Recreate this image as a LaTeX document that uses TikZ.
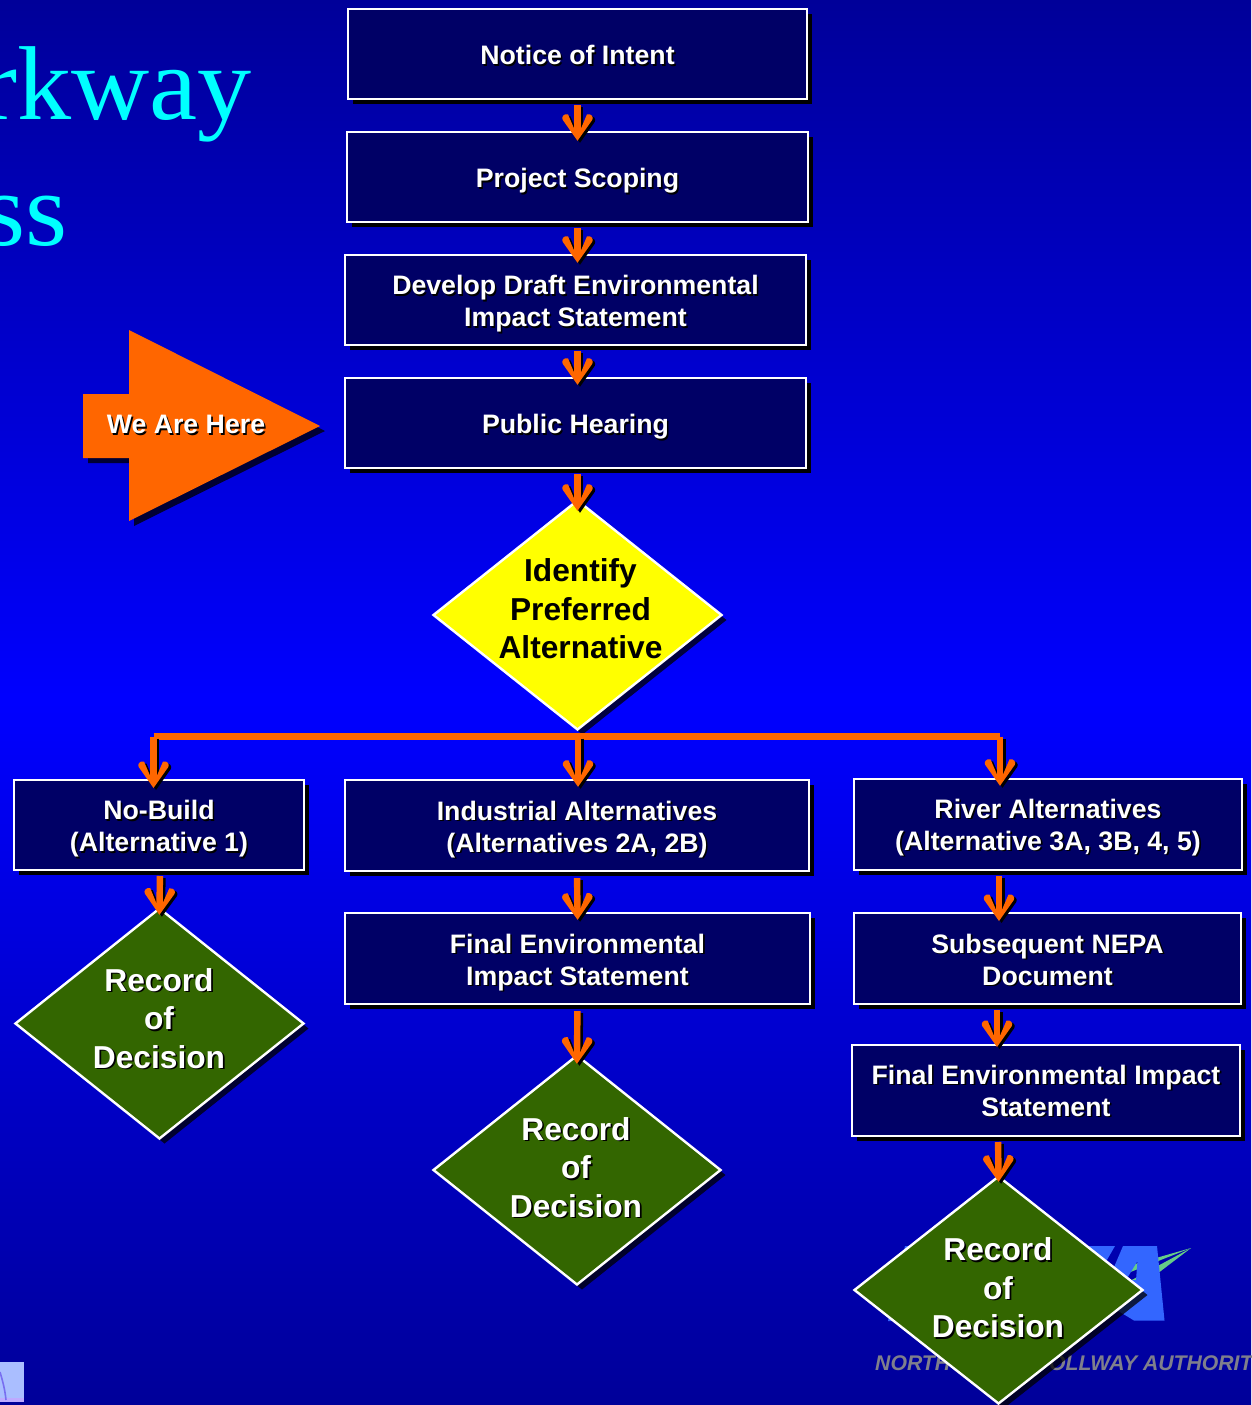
\documentclass[tikz,border=0pt]{standalone}
\usepackage{fontspec}
\setmainfont{Liberation Sans}
\newfontfamily\titlefont{Liberation Serif}
\usetikzlibrary{arrows.meta,shapes.geometric,shadows}
\definecolor{bgdark}{RGB}{0,0,153}
\definecolor{bgmid}{RGB}{0,0,255}
\definecolor{boxfill}{RGB}{0,0,102}
\definecolor{flow}{RGB}{255,102,0}
\definecolor{rod}{RGB}{51,102,0}
\definecolor{deep}{RGB}{0,0,51}
\definecolor{logoblue}{RGB}{51,102,255}
\definecolor{swoosh}{RGB}{102,204,136}
\definecolor{tagline}{RGB}{127,127,140}
\definecolor{titlecyan}{RGB}{0,255,255}
\definecolor{pureyellow}{RGB}{255,255,0}
\newcommand{\st}[1]{\leavevmode\rule{0pt}{.716em}\smash{\rlap{\kern1.6pt\raisebox{-1.6pt}{\textcolor{black}{#1}}}#1}}
\newcommand{\bt}[1]{\leavevmode\rule{0pt}{\dimexpr.716em+2pt\relax}\st{#1}}
\newcommand{\declarehead}[2]{%
\pgfdeclarearrow{name=#1,
  setup code={\pgfarrowssettipend{0pt}\pgfarrowssetbackend{-27.5pt}\pgfarrowssetlineend{-12pt}\pgfarrowssetvisualtipend{0pt}\pgfarrowssetvisualbackend{-27.5pt}\pgfarrowshullpoint{0pt}{0pt}\pgfarrowshullpoint{-27.5pt}{15pt}\pgfarrowshullpoint{-27.5pt}{-15pt}},
  drawing code={%
    \pgfsetfillcolor{#2}%
    \pgfpathmoveto{\pgfpoint{0pt}{0pt}}%
    \pgfpathlineto{\pgfpoint{-21pt}{14.8pt}}%
    \pgfpathcurveto{\pgfpoint{-23.5pt}{16.3pt}}{\pgfpoint{-27.5pt}{14pt}}{\pgfpoint{-26.5pt}{9.5pt}}%
    \pgfpathlineto{\pgfpoint{-12pt}{3.3pt}}%
    \pgfpathlineto{\pgfpoint{-12pt}{-3.3pt}}%
    \pgfpathlineto{\pgfpoint{-26.5pt}{-9.5pt}}%
    \pgfpathcurveto{\pgfpoint{-27.5pt}{-14pt}}{\pgfpoint{-23.5pt}{-16.3pt}}{\pgfpoint{-21pt}{-14.8pt}}%
    \pgfpathclose
    \pgfusepathqfill},
  defaults={}}}
\declarehead{HeadOrange}{flow}
\declarehead{HeadBlack}{black}
\tikzset{
  x=1pt,y=-1pt,
  procbox/.style={draw=white,line width=2.4pt,fill=boxfill,text=white,align=center,
    font=\fontsize{26.7}{32}\selectfont\bfseries,inner sep=0pt,
    drop shadow={shadow xshift=5pt,shadow yshift=-5pt,fill=black,opacity=1}},
  dia/.style={diamond,draw=white,line width=2.4pt,inner sep=0pt,shape aspect=1.26,
    drop shadow={shadow xshift=5pt,shadow yshift=-5pt,fill=black,opacity=.75}},
  dialabel/.style={text=white,align=center,font=\fontsize{31.7}{38.5}\selectfont\bfseries,inner sep=0pt},
  flowline/.style={draw=flow,line width=6.4pt,-{HeadOrange},
    preaction={draw=black,line width=6.4pt,transform canvas={shift={(2.5pt,-2pt)}},-{HeadBlack}}},
  busline/.style={draw=flow,line width=6.4pt,line cap=square},
}
\begin{document}
\begin{tikzpicture}
\useasboundingbox (0,0) rectangle (1251,1405);
\shade[top color=bgdark,bottom color=bgdark,middle color=bgmid] (0,0) rectangle (1251,1405);
% title fragments
\node[anchor=base east,inner sep=0pt,text=titlecyan,font=\titlefont\fontsize{105}{105}\selectfont] (title1) at (251.5,119) {\scalebox{1.03}[1]{rkway}};
\node[anchor=base east,inner sep=0pt,text=titlecyan,font=\titlefont\fontsize{105}{105}\selectfont] (title2) at (68,245) {\scalebox{1.03}[1]{ss}};
% thumbnail bottom-left
\fill[fill={rgb,255:red,170;green,190;blue,255}] (0,1362) rectangle (24,1402);
\fill[fill={rgb,255:red,190;green,170;blue,255}] (0,1398) rectangle (24,1402);
\draw[draw={rgb,255:red,120;green,110;blue,240},line width=1.6pt] (0,1372) .. controls (3,1382) and (5,1390) .. (6,1400);
% logo
\fill[swoosh] (1191,1248) -- (1128,1266) -- (1128,1273) -- cycle;
\fill[swoosh] (1191,1248) -- (1128,1282) -- (1128,1296) -- cycle;
\fill[logoblue,even odd rule] (1123,1246) -- (1157,1246) -- (1164.5,1320.5) -- (1134,1320.5) -- (1100,1300) -- cycle
  (1137.5,1261) -- (1136,1280) -- (1126,1280) -- cycle;
\fill[logoblue] (1085,1246) -- (1115,1246) -- (1104,1265) -- (1085,1265) -- cycle;
\fill[logoblue] (905,1246) -- (930,1246) -- (910,1321) -- (888,1321) -- cycle;
\node[anchor=base west,inner sep=0pt,text=tagline,font=\fontsize{21.2}{22}\selectfont\bfseries\itshape] (logotext) at (875,1370) {NORTH TEXAS\hspace*{4pt} TOLLWAY AUTHORITY};
% We are here arrow
\fill[deep] (88,399) -- (134,399) -- (134,335) -- (325,431) -- (134,526) -- (134,463) -- (88,463) -- cycle;
\fill[flow] (83,394) -- (129,394) -- (129,330) -- (320,426) -- (129,521) -- (129,458) -- (83,458) -- cycle;
\node[text=white,font=\fontsize{26.7}{32}\selectfont\bfseries,inner sep=0pt] (here) at (186,424) {\st{We Are Here}};
% process boxes
\node[procbox,minimum width=459pt,minimum height=90pt] (notice) at (577.5,54) {\bt{Notice of Intent}};
\node[procbox,minimum width=461pt,minimum height=90pt] (scoping) at (577.5,177) {\bt{Project Scoping}};
\node[procbox,minimum width=461pt,minimum height=90pt] (draft) at (575.5,300) {\bt{Develop Draft Environmental}\\\st{Impact Statement}};
\node[procbox,minimum width=461pt,minimum height=90pt] (hearing) at (575.5,423) {\bt{Public Hearing}};
\node[dia,fill=pureyellow,minimum width=289pt,minimum height=230pt] (prefer) at (577.5,615) {};
\node[dialabel,text=black] (preferlabel) at (580.5,609) {Identify\\Preferred\\Alternative};
\node[procbox,minimum width=290pt,minimum height=90pt] (nobuild) at (159,825) {\bt{No-Build}\\\st{(Alternative 1)}};
\node[procbox,minimum width=464pt,minimum height=91pt] (industrial) at (577,825.5) {\bt{Industrial Alternatives}\\\st{(Alternatives 2A, 2B)}};
\node[procbox,minimum width=388pt,minimum height=91pt] (river) at (1048,824.5) {\st{River Alternatives}\\\st{(Alternative 3A, 3B, 4, 5)}};
\node[procbox,minimum width=465pt,minimum height=91pt] (feis) at (577.5,958.5) {\bt{Final Environmental}\\\st{Impact Statement}};
\node[procbox,minimum width=387pt,minimum height=91pt] (nepa) at (1047.5,958.5) {\bt{Subsequent NEPA}\\\st{Document}};
\node[procbox,minimum width=388pt,minimum height=91pt] (fimpact) at (1046,1090.5) {\st{Final Environmental Impact}\\\st{Statement}};
\node[dia,fill=rod,minimum width=289pt,minimum height=231pt] (rod1) at (159.5,1023.5) {};
\node[dialabel] (rod1label) at (159,1018.5) {\st{Record}\\\st{of}\\\st{Decision}};
\node[dia,fill=rod,minimum width=288pt,minimum height=230pt] (rod2) at (577,1170) {};
\node[dialabel] (rod2label) at (576,1167.5) {\st{Record}\\\st{of}\\\st{Decision}};
\node[dia,fill=rod,minimum width=289pt,minimum height=228pt] (rod3) at (998.5,1290) {};
\node[dialabel] (rod3label) at (998,1288) {\st{Record}\\\st{of}\\\st{Decision}};
% connectors
\draw[flowline,shorten <=5pt,shorten >=-10pt] (notice.south) -- (notice.south |- scoping.north);
\draw[flowline,shorten <=5pt,shorten >=-9pt] (scoping.south) -- (scoping.south |- draft.north);
\draw[flowline,shorten <=5pt,shorten >=-8pt] ([xshift=2pt]draft.south) -- ([xshift=2pt]hearing.north);
\draw[flowline,shorten <=5pt,shorten >=-12pt] ([xshift=2pt]hearing.south) -- (prefer.north);
\coordinate (busL) at (153.5,736.5);
\coordinate (busC) at (578,736.5);
\coordinate (busR) at (1000,736.5);
\draw[busline] (busL) -- (busR);
\draw[flowline,shorten >=-8pt] (busL) -- (153.5,780);
\draw[flowline,shorten >=-8pt] (busC) -- (industrial.north -| busC);
\draw[flowline,shorten >=-8pt] (busR) -- (river.north -| busR);
\draw[flowline,shorten <=6pt,shorten >=-8pt] (160,870) -- (rod1.north);
\draw[flowline,shorten <=6pt,shorten >=-8pt] (industrial.south) -- (feis.north);
\draw[flowline,shorten <=6pt,shorten >=-10pt] (feis.south) -- (rod2.north);
\draw[flowline,shorten <=6pt,shorten >=-8pt] (999,870) -- (999,913);
\draw[flowline,shorten <=6pt,shorten >=-2pt] (997,1004) -- (997,1045);
\draw[flowline,shorten <=6pt,shorten >=-7pt] (998,1136) -- (rod3.north);
\end{tikzpicture}
\end{document}
